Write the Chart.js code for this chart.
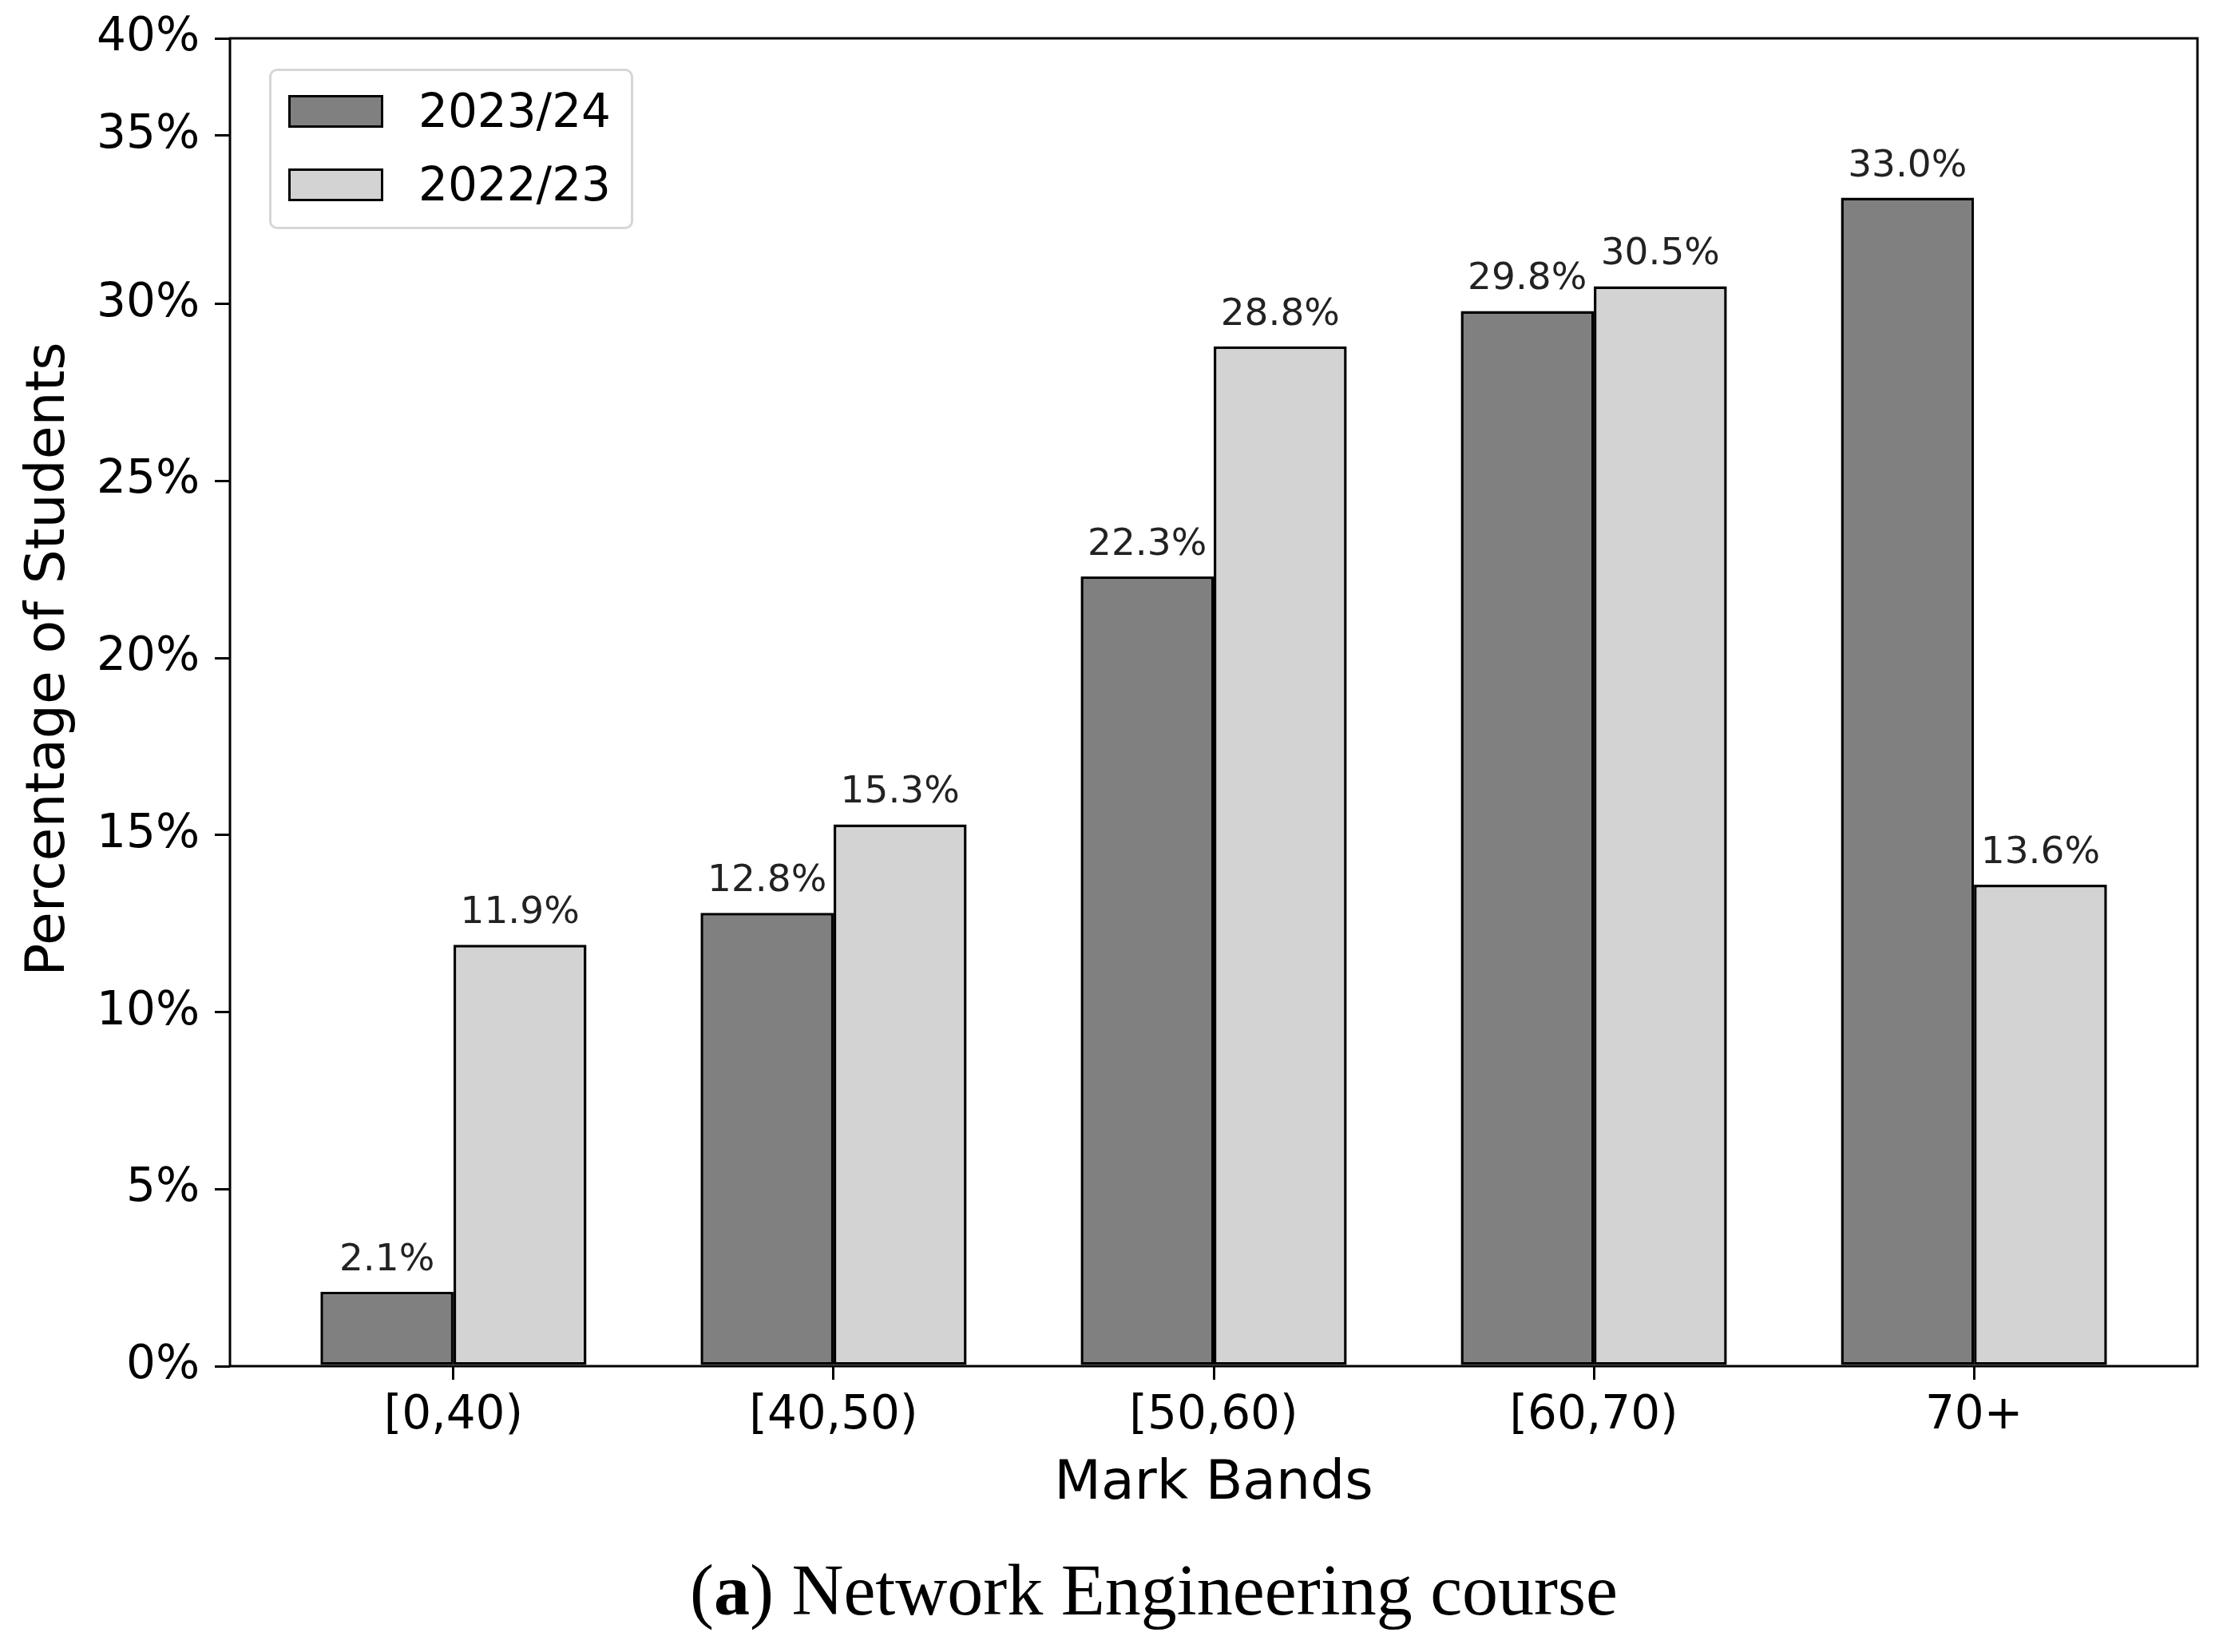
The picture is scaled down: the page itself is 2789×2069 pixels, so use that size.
<!DOCTYPE html>
<html lang="en">
<head>
    <meta charset="UTF-8">
    <title>Mark Bands - Network Engineering course</title>
    <script src="https://cdn.jsdelivr.net/npm/chart.js@4"></script>
    <style>
        body {
            margin: 0;
            background: #fff;
            font-family: 'DejaVu Sans', sans-serif;
        }
        #wrap {
            position: relative;
            width: 2789px;
            height: 2069px;
            overflow: hidden;
        }
        #chart {
            position: absolute;
            left: 0;
            top: 0;
        }
        #legend {
            position: absolute;
            left: 337px;
            top: 86px;
            width: 450px;
            height: 195px;
            border: 3px solid #d6d6d6;
            border-radius: 10px;
            background: #fff;
        }
        .item {
            position: absolute;
            left: 21px;
            height: 44px;
            display: flex;
            align-items: center;
        }
        .swatch {
            width: 113px;
            height: 35px;
            border: 3px solid #000;
        }
        .item span {
            margin-left: 44px;
            font-size: 58px;
            line-height: 1;
            color: #000;
        }
        #caption {
            position: absolute;
            left: 1445px;
            top: 1947px;
            transform: translateX(-50%);
            white-space: nowrap;
            font-family: 'Liberation Serif', serif;
            font-size: 90px;
            line-height: 1;
            color: #000;
        }
    </style>
</head>
<body>
    <div id="wrap">
        <canvas id="chart" width="2789" height="1930"></canvas>
        <div id="legend"></div>
        <div id="caption">(<b>a</b>) Network Engineering course</div>
    </div>

    <script>
        const categories = ['[0,40)', '[40,50)', '[50,60)', '[60,70)', '70+'];
        const seriesNames = ['2023/24', '2022/23'];
        const values2324 = [2.1, 12.8, 22.3, 29.8, 33.0];
        const values2223 = [11.9, 15.3, 28.8, 30.5, 13.6];
        const yTickValues = [0, 5, 10, 15, 20, 25, 30, 34.75, 37.5];
        const yTickLabels = ['0%', '5%', '10%', '15%', '20%', '25%', '30%', '35%', '40%'];

        Chart.defaults.font.family = "'DejaVu Sans', sans-serif";
        Chart.defaults.color = '#000';

        const toPoints = vals => vals.map((v, i) => ({ x: i, y: v }));

        // percentage text above every bar
        const valueLabels = {
            id: 'valueLabels',
            afterDatasetsDraw(chart) {
                const ctx = chart.ctx;
                ctx.save();
                ctx.font = "47px 'DejaVu Sans'";
                ctx.fillStyle = '#222';
                ctx.textAlign = 'center';
                ctx.textBaseline = 'alphabetic';
                chart.data.datasets.forEach((ds, d) => {
                    chart.getDatasetMeta(d).data.forEach((bar, i) => {
                        ctx.fillText(ds.data[i].y.toFixed(1) + '%', bar.x, bar.y - 27);
                    });
                });
                ctx.restore();
            }
        };

        // matplotlib style box around the plot
        const frame = {
            id: 'frame',
            afterDraw(chart) {
                const a = chart.chartArea;
                const ctx = chart.ctx;
                ctx.save();
                ctx.strokeStyle = '#000';
                ctx.lineWidth = 3;
                ctx.strokeRect(a.left, a.top, a.right - a.left, a.bottom - a.top);
                ctx.restore();
            }
        };

        const chart = new Chart(document.getElementById('chart'), {
            type: 'bar',
            data: {
                datasets: [{
                    label: seriesNames[0],
                    data: toPoints(values2324),
                    backgroundColor: '#808080',
                    borderColor: '#000',
                    borderWidth: 3.5,
                    borderSkipped: false
                }, {
                    label: seriesNames[1],
                    data: toPoints(values2223),
                    backgroundColor: '#d3d3d3',
                    borderColor: '#000',
                    borderWidth: 3.5,
                    borderSkipped: false
                }]
            },
            options: {
                responsive: false,
                animation: false,
                devicePixelRatio: 1,
                layout: { padding: { top: 48, right: 37, left: 0, bottom: 0 } },
                datasets: { bar: { categoryPercentage: 0.7, barPercentage: 1.0 } },
                plugins: {
                    legend: { display: false },
                    tooltip: { enabled: false }
                },
                scales: {
                    x: {
                        type: 'linear',
                        min: -0.588,
                        max: 4.588,
                        offset: false,
                        afterBuildTicks: s => { s.ticks = categories.map((c, i) => ({ value: i })); },
                        afterFit: s => { s.height = 1930 - 1711; },
                        ticks: {
                            callback: (v, i) => categories[i],
                            font: { size: 58, lineHeight: 1 },
                            padding: 17,
                            maxRotation: 0,
                            autoSkip: false
                        },
                        grid: { offset: false, drawOnChartArea: false, drawTicks: true, tickLength: 17, color: '#000', lineWidth: 3 },
                        border: { display: false },
                        title: {
                            display: true,
                            text: 'Mark Bands',
                            font: { size: 68, lineHeight: 1 },
                            padding: { top: 0, bottom: 37 }
                        }
                    },
                    y: {
                        min: 0,
                        max: 37.5,
                        afterBuildTicks: s => { s.ticks = yTickValues.map(v => ({ value: v })); },
                        afterFit: s => { s.width = 288; },
                        ticks: {
                            callback: (v, i) => yTickLabels[i],
                            font: { size: 58, lineHeight: 0.5 },
                            padding: 19,
                            autoSkip: false
                        },
                        grid: { drawOnChartArea: false, drawTicks: true, tickLength: 19, color: '#000', lineWidth: 3 },
                        border: { display: false },
                        title: {
                            display: true,
                            text: '     Percentage of Students',
                            font: { size: 68, lineHeight: 1 },
                            padding: { top: 28, bottom: 0 }
                        }
                    }
                }
            },
            plugins: [valueLabels, frame]
        });

        // legend built from the chart's datasets
        const legendEl = document.getElementById('legend');
        chart.data.datasets.forEach((ds, i) => {
            const item = document.createElement('div');
            item.className = 'item';
            item.style.top = (28 + i * 92) + 'px';
            const sw = document.createElement('div');
            sw.className = 'swatch';
            sw.style.background = ds.backgroundColor;
            const label = document.createElement('span');
            label.textContent = ds.label;
            item.appendChild(sw);
            item.appendChild(label);
            legendEl.appendChild(item);
        });
    </script>
</body>
</html>
